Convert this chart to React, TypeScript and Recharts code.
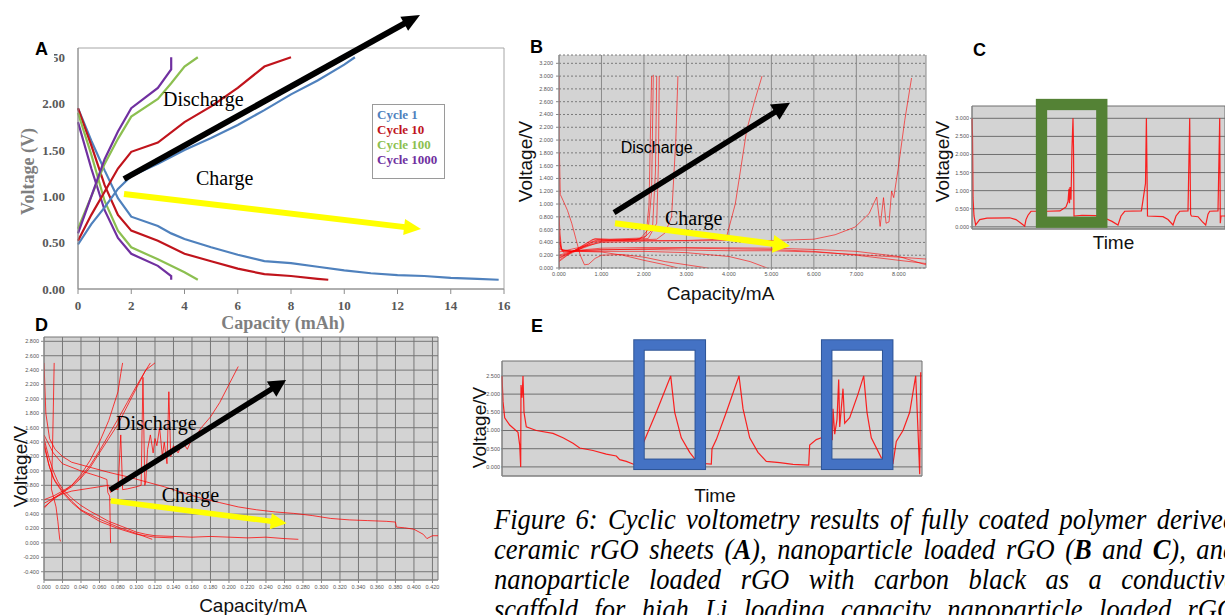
import React from "react";
import { LineChart, Line, XAxis, YAxis, CartesianGrid, Legend, ReferenceArea, Label } from "recharts";

type Pairs = number[][];
const pts = (a: Pairs) => a.map(([x, y]) => ({ x, y }));

// ---- A: fully coated polymer derived ceramic rGO (capacity mAh, voltage V)
const aCapTicks = [0, 2, 4, 6, 8, 10, 12, 14, 16];
const aVoltTicks = [0, 0.5, 1, 1.5, 2, 2.5];
const cyc1Charge = [[0, 1.95], [0.5, 1.6], [1, 1.28], [1.5, 0.98], [2, 0.78], [3, 0.68], [3.5, 0.6], [4, 0.54], [5, 0.45], [6, 0.37], [7, 0.3], [8, 0.28], [9, 0.24], [10, 0.2], [11, 0.17], [12, 0.15], [13, 0.14], [14, 0.12], [15, 0.11], [15.8, 0.1]];
const cyc1Discharge = [[0, 0.48], [0.5, 0.7], [1, 0.88], [1.5, 1.08], [2, 1.22], [3, 1.35], [4, 1.5], [5, 1.63], [6, 1.77], [7, 1.93], [8, 2.1], [9, 2.25], [10, 2.42], [10.4, 2.5]];
const cyc10Charge = [[0, 1.95], [0.5, 1.55], [1, 1.12], [1.5, 0.8], [2, 0.63], [3, 0.52], [4, 0.38], [5, 0.3], [6, 0.22], [7, 0.16], [8, 0.14], [9, 0.11], [9.4, 0.1]];
const cyc10Discharge = [[0, 0.52], [0.5, 0.8], [1, 1.05], [1.5, 1.3], [2, 1.48], [3, 1.58], [4, 1.8], [5, 1.97], [6, 2.17], [7, 2.4], [8, 2.5]];
const cyc100Charge = [[0, 1.9], [0.5, 1.45], [1, 0.95], [1.5, 0.63], [2, 0.45], [3, 0.32], [4, 0.18], [4.5, 0.1]];
const cyc100Discharge = [[0, 0.65], [0.5, 1.0], [1, 1.35], [1.5, 1.62], [2, 1.86], [3, 2.05], [3.5, 2.22], [4, 2.4], [4.5, 2.5]];
const cyc1000Charge = [[0, 1.8], [0.5, 1.3], [1, 0.85], [1.5, 0.55], [2, 0.38], [3, 0.25], [3.5, 0.14], [3.5, 0.1]];
const cyc1000Discharge = [[0, 0.6], [0.5, 1.0], [1, 1.4], [1.5, 1.7], [2, 1.95], [3, 2.17], [3.5, 2.37], [3.5, 2.5]];

const aCycles = [
  { name: "Cycle 1", color: "#4f81bd", charge: cyc1Charge, discharge: cyc1Discharge },
  { name: "Cycle 10", color: "#c0141c", charge: cyc10Charge, discharge: cyc10Discharge },
  { name: "Cycle 100", color: "#8cbf50", charge: cyc100Charge, discharge: cyc100Discharge },
  { name: "Cycle 1000", color: "#7030a0", charge: cyc1000Charge, discharge: cyc1000Discharge },
];

// ---- B: nanoparticle loaded rGO (capacity, voltage)
const bCapTicks = [0, 1, 2, 3, 4, 5, 6, 7, 8];
const bVoltTicks = [0, 0.2, 0.4, 0.6, 0.8, 1, 1.2, 1.4, 1.6, 1.8, 2, 2.2, 2.4, 2.6, 2.8, 3, 3.2];
const bCurves: Pairs[] = [
  [[0, 0], [0, 3.0]],
  [[0.01, 1.8], [0.03, 1.15], [0.1, 1.05], [0.2, 0.9], [0.3, 0.7], [0.4, 0.45], [0.5, 0.2], [0.6, 0.05], [0.7, 0.06], [0.85, 0.15], [1.0, 0.2], [1.5, 0.21], [2, 0.17], [2.5, 0.1], [3, 0.05], [3.5, 0.0]],
  [[0, 0.8], [0.03, 0.5], [0.06, 0.3], [0.1, 0.27], [0.3, 0.27], [1, 0.28], [2, 0.3], [3, 0.31], [4, 0.3], [5, 0.29], [6, 0.26], [7, 0.2], [8, 0.12], [8.64, 0.07]],
  [[0, 0.6], [0.05, 0.3], [0.1, 0.25], [0.5, 0.27], [1, 0.29], [2, 0.29], [3, 0.28], [4, 0.27], [5, 0.27], [6, 0.25], [7, 0.21], [8, 0.17], [8.64, 0.14]],
  [[0, 0.5], [0.05, 0.28], [0.3, 0.26], [1, 0.26], [2, 0.26], [3, 0.24], [4, 0.18], [4.5, 0.1], [4.9, 0.0]],
  [[0, 0.4], [0.1, 0.25], [0.5, 0.26], [1, 0.25], [1.5, 0.2], [2, 0.12], [2.5, 0.05], [2.8, 0.0]],
  [[0, 0.3], [0.3, 0.26], [0.5, 0.28], [1, 0.31], [2, 0.32], [3, 0.32], [5, 0.31], [6, 0.29], [7, 0.26], [8, 0.18], [8.64, 0.05]],
  [[0, 0.1], [0.2, 0.2], [0.5, 0.3], [0.8, 0.42], [1.2, 0.43], [1.8, 0.44], [2.05, 0.5], [2.12, 1.0], [2.15, 2.0], [2.18, 3.0]],
  [[0, 0.12], [0.3, 0.25], [0.8, 0.45], [1.2, 0.44], [1.9, 0.45], [2.1, 0.6], [2.18, 1.2], [2.22, 3.02]],
  [[0, 0.15], [0.4, 0.28], [0.85, 0.46], [1.2, 0.45], [2.0, 0.47], [2.2, 0.6], [2.27, 1.5], [2.3, 3.0]],
  [[0, 0.16], [0.45, 0.3], [0.9, 0.44], [1.5, 0.44], [2.1, 0.46], [2.3, 0.7], [2.34, 1.6], [2.36, 3.0]],
  [[0, 0.18], [0.5, 0.3], [0.9, 0.42], [1.5, 0.43], [2.3, 0.45], [2.5, 0.55], [2.65, 0.8], [2.75, 2.0], [2.8, 3.0]],
  [[0, 0.2], [0.6, 0.32], [1.0, 0.42], [2, 0.43], [3, 0.43], [3.8, 0.45], [3.95, 0.5], [4.15, 1.0], [4.42, 2.16], [4.6, 2.6], [4.78, 3.0]],
  [[0, 0.25], [1, 0.4], [2, 0.42], [4, 0.43], [5, 0.43], [6, 0.45], [6.5, 0.52], [6.97, 0.64], [7.3, 0.85], [7.48, 1.11], [7.56, 0.65], [7.64, 1.1], [7.7, 0.7], [7.77, 0.72], [7.83, 1.2], [7.88, 1.1], [7.98, 1.53], [8.14, 2.31], [8.3, 2.97]],
];

// ---- C: nanoparticle loaded rGO (time, voltage)
const cTimeTicks = [28.7, 57.4, 86.1, 114.8, 143.5, 172.2, 200.9, 229.6];
const cVoltTicks = [0, 0.5, 1, 1.5, 2, 2.5, 3];
const cVoltage = [[0, 3.0], [0.5, 2.5], [1, 0.8], [2, 0.3], [3.7, 0.05], [5, 0.1], [7.7, 0.2], [15, 0.24], [37.7, 0.25], [44, 0.2], [50, 0.08], [52.7, 0.02], [54, 0.2], [56, 0.32], [59, 0.43], [75, 0.43], [88, 0.44], [94, 0.55], [96, 0.7], [97, 1.05], [97.5, 0.65], [98, 1.1], [99, 0.75], [100, 2.2], [101, 3.0], [101.5, 2.2], [102, 0.3], [110, 0.32], [124, 0.31], [132, 0.25], [140, 0.15], [146, 0.05], [149, 0.3], [152.7, 0.43], [169.4, 0.44], [173.5, 1.2], [174.4, 3.0], [175.5, 0.3], [191, 0.28], [196, 0.2], [201, 0.05], [204, 0.3], [207.7, 0.43], [216, 0.44], [217.7, 3.0], [218.6, 0.35], [219.4, 0.3], [226, 0.28], [230, 0.15], [233.7, 0.05], [236, 0.35], [237.7, 0.43], [246, 0.44], [247.7, 3.0], [248.3, 0.1], [249, 0.3], [253, 0.3]];

// ---- D: nanoparticle loaded rGO with carbon black (capacity, voltage)
const dCapTicks = [0, 0.02, 0.04, 0.06, 0.08, 0.1, 0.12, 0.14, 0.16, 0.18, 0.2, 0.22, 0.24, 0.26, 0.28, 0.3, 0.32, 0.34, 0.36, 0.38, 0.4, 0.42];
const dVoltTicks = [-0.4, -0.2, 0, 0.2, 0.4, 0.6, 0.8, 1, 1.2, 1.4, 1.6, 1.8, 2, 2.2, 2.4, 2.6, 2.8];
const dCurves: Pairs[] = [
  [[0, 2.5], [0.002, 1.8], [0.006, 1.45], [0.012, 1.3], [0.02, 1.2], [0.03, 1.12], [0.05, 1.05], [0.07, 0.98], [0.09, 0.92], [0.11, 0.85], [0.13, 0.78], [0.15, 0.7], [0.17, 0.62], [0.19, 0.56], [0.21, 0.5], [0.23, 0.46], [0.25, 0.43], [0.27, 0.41], [0.29, 0.38], [0.31, 0.34], [0.33, 0.32], [0.35, 0.31], [0.37, 0.3], [0.38, 0.29], [0.381, 0.22], [0.39, 0.21], [0.4, 0.19], [0.41, 0.12], [0.414, 0.06], [0.42, 0.1], [0.426, 0.1]],
  [[0, 1.5], [0.01, 1.25], [0.02, 1.1], [0.04, 1.0], [0.06, 0.92], [0.068, 0.88], [0.069, 0.7], [0.071, 0.65], [0.072, 0.0]],
  [[0, 1.45], [0.005, 1.2], [0.01, 1.0], [0.015, 0.85], [0.02, 0.75], [0.03, 0.62], [0.04, 0.52], [0.05, 0.44], [0.06, 0.37], [0.07, 0.3], [0.08, 0.25], [0.09, 0.2], [0.1, 0.15], [0.11, 0.12], [0.12, 0.1], [0.14, 0.09], [0.16, 0.08], [0.18, 0.09], [0.2, 0.08], [0.22, 0.07], [0.24, 0.08], [0.26, 0.06], [0.275, 0.05]],
  [[0, 1.4], [0.005, 1.1], [0.01, 0.9], [0.02, 0.72], [0.03, 0.58], [0.04, 0.46], [0.06, 0.33], [0.08, 0.22], [0.1, 0.13], [0.117, 0.05]],
  [[0, 1.35], [0.006, 1.05], [0.012, 0.85], [0.02, 0.7], [0.03, 0.56], [0.04, 0.45], [0.06, 0.3], [0.08, 0.2], [0.1, 0.12], [0.12, 0.08], [0.14, 0.07]],
  [[0.011, 2.5], [0.01, 1.8], [0.009, 1.2], [0.008, 0.75], [0.01, 0.65], [0.013, 0.5], [0.015, 0.3], [0.017, 0.05], [0.018, 0.02]],
  [[0, 0.5], [0.01, 0.6], [0.02, 0.7], [0.03, 0.8], [0.04, 0.95], [0.05, 1.15], [0.06, 1.4], [0.07, 1.7], [0.075, 1.9], [0.08, 2.1], [0.083, 2.35], [0.085, 2.5]],
  [[0, 0.55], [0.01, 0.62], [0.02, 0.7], [0.03, 0.78], [0.04, 0.9], [0.05, 1.05], [0.06, 1.25], [0.07, 1.45], [0.08, 1.65], [0.09, 1.9], [0.1, 2.15], [0.11, 2.4], [0.115, 2.5]],
  [[0, 0.6], [0.01, 0.65], [0.02, 0.72], [0.03, 0.8], [0.04, 0.92], [0.05, 1.08], [0.06, 1.28], [0.07, 1.5], [0.08, 1.72], [0.09, 1.95], [0.1, 2.18], [0.11, 2.4], [0.12, 2.5]],
  [[0, 0.48], [0.01, 0.62], [0.02, 0.68], [0.03, 0.72], [0.04, 0.74], [0.05, 0.76], [0.06, 0.78], [0.07, 0.8], [0.072, 0.7], [0.075, 0.75], [0.08, 0.74], [0.083, 1.5], [0.085, 0.74], [0.09, 0.75], [0.1, 0.78], [0.105, 0.8], [0.107, 2.3], [0.109, 0.8], [0.11, 0.85], [0.112, 1.3], [0.115, 1.5], [0.118, 1.25], [0.12, 1.45], [0.122, 1.35], [0.125, 1.6], [0.128, 1.2], [0.13, 1.4], [0.133, 1.1], [0.135, 2.1], [0.137, 1.2], [0.14, 1.35], [0.145, 1.25], [0.15, 1.4], [0.155, 1.3], [0.16, 1.45], [0.165, 1.5], [0.17, 1.6], [0.18, 1.75], [0.19, 1.95], [0.2, 2.2], [0.21, 2.45]],
];

// ---- E: nanoparticle loaded rGO with carbon black (time, voltage)
const eTimeTicks = [38.7, 77, 115.3, 154, 192.3, 230.3, 268.7, 306.7, 345, 383.3];
const eVoltTicks = [0, 0.5, 1, 1.5, 2, 2.5];
const eVoltage = [[0, 2.5], [1, 1.8], [2.7, 1.35], [7.7, 1.15], [16, 0.95], [17.7, 0.6], [18.7, 0.0], [19, 2.25], [20, 1.9], [21, 2.5], [22, 1.5], [24.3, 1.1], [34.3, 1.0], [51, 0.92], [61, 0.8], [71, 0.65], [77.7, 0.52], [91, 0.45], [104.3, 0.35], [114.3, 0.3], [117.7, 0.2], [124.3, 0.15], [131, 0.08], [134.3, 0.05], [142, 0.7], [154.3, 1.5], [168.7, 2.5], [172.7, 1.5], [179.3, 0.8], [187.7, 0.4], [192.7, 0.22], [197.7, 0.1], [209.3, 0.08], [210, 0.5], [214.3, 0.75], [224.3, 1.5], [237, 2.5], [241, 1.6], [247.7, 0.8], [256, 0.4], [264.3, 0.15], [277.7, 0.12], [291, 0.07], [306.7, 0.05], [307.7, 0.6], [314.3, 0.75], [319.3, 0.8], [330.3, 0.75], [331, 1.6], [332.7, 0.9], [335, 1.3], [336.7, 2.4], [337.7, 1.1], [341, 2.15], [342.7, 1.2], [347.7, 1.35], [356, 2.0], [361.7, 2.5], [365, 1.5], [369.3, 0.8], [379.3, 0.25], [391, 0.1], [394.3, 0.7], [401, 1.0], [407.7, 1.5], [413.7, 2.5], [416, 1.0], [417.7, -0.2], [418.7, 2.6]];

const captionLines = [
  "Figure 6: Cyclic voltometry results of fully coated polymer derived",
  "ceramic rGO sheets (A), nanoparticle loaded rGO (B and C), and",
  "nanoparticle loaded rGO with carbon black as a conductive",
  "scaffold for high Li loading capacity nanoparticle loaded rGO",
];

const sans = "'Liberation Sans', Arial, sans-serif";
const serif = "'Liberation Serif', 'Times New Roman', serif";
const smallTick = { fontSize: 5.5, fill: "#555", fontFamily: sans };
const f3 = (v: number) => v.toFixed(3);
const titleStyle = { fontSize: 19, fill: "#111", fontFamily: sans };

function LegendA(props: any) {
  const seen = new Set<string>();
  const items = (props.payload || []).filter((e: any) => {
    if (e.type === "none" || seen.has(e.value)) return false;
    seen.add(e.value);
    return true;
  });
  return (
    <div style={{ border: "1px solid #9a9a9a", width: 73, height: 75, boxSizing: "border-box", padding: "2px 0 0 4px", background: "#fff" }}>
      {items.map((e: any) => (
        <div key={e.value} style={{ color: e.color, font: `bold 13px ${serif}`, lineHeight: "15px", whiteSpace: "nowrap" }}>
          {e.value}
        </div>
      ))}
    </div>
  );
}

function PanelA() {
  return (
    <div style={{ position: "absolute", left: 0, top: 30 }}>
      <LineChart width={520} height={310} margin={{ top: 18, right: 16, left: 0, bottom: 0 }}>
        <XAxis type="number" dataKey="x" domain={[0, 16]} ticks={aCapTicks} height={51} interval={0}
          tick={{ fontSize: 13, fontWeight: "bold", fill: "#595959", fontFamily: serif }}
          tickSize={5} tickMargin={7} stroke="#8c8c8c">
          <Label value="Capacity (mAh)" position="center" dx={-8} dy={8}
            style={{ fontSize: 18, fontWeight: "bold", fill: "#7f7f7f", fontFamily: serif }} />
        </XAxis>
        <YAxis type="number" domain={[0, 2.6]} ticks={aVoltTicks} width={78} interval={0}
          tickFormatter={(v: number) => v.toFixed(2)} tickLine={false}
          tick={{ fontSize: 13, fontWeight: "bold", fill: "#595959", fontFamily: serif }}
          tickSize={6} tickMargin={7} stroke="#8c8c8c">
          <Label value="Voltage (V)" angle={-90} position="center" dx={-11} dy={3}
            style={{ fontSize: 18, fontWeight: "bold", fill: "#7f7f7f", fontFamily: serif }} />
        </YAxis>
        <ReferenceArea x1={0} x2={16} y1={0} y2={2.6} fill="none" stroke="#a6a6a6" />
        {aCycles.map((c) => (
          <Line key={c.name + "c"} data={pts(c.charge)} dataKey="y" name={c.name} stroke={c.color}
            strokeWidth={2.2} dot={false} isAnimationActive={false} legendType="none" />
        ))}
        {aCycles.map((c) => (
          <Line key={c.name + "d"} data={pts(c.discharge)} dataKey="y" name={c.name} stroke={c.color}
            strokeWidth={2.2} dot={false} isAnimationActive={false} />
        ))}
        <Legend layout="vertical" align="center" verticalAlign="middle" content={LegendA}
          wrapperStyle={{ left: 372, top: 74, width: 73 }} />
      </LineChart>
    </div>
  );
}

function PanelB() {
  return (
    <div style={{ position: "absolute", left: 505, top: 30 }}>
      <LineChart width={435} height={280} margin={{ top: 25, right: 14, left: 0, bottom: 0 }}>
        <CartesianGrid vertical={false} stroke="#7a7a7a" strokeDasharray="2 2" fill="#d3d3d3" fillOpacity={1} />
        <CartesianGrid horizontal={false} stroke="#8a8a8a" />
        <XAxis type="number" dataKey="x" domain={[0, 8.64]} ticks={bCapTicks} height={42} interval={0}
          tickFormatter={f3} tick={smallTick} tickSize={2} tickMargin={2} stroke="#888" allowDataOverflow>
          <Label value="Capacity/mA" position="center" dx={-22} dy={4} style={titleStyle} />
        </XAxis>
        <YAxis type="number" domain={[0, 3.33]} ticks={bVoltTicks} width={54} interval={0}
          tickFormatter={f3} tick={smallTick} tickSize={3} tickMargin={3} stroke="#888" allowDataOverflow>
          <Label value="Voltage/V" angle={-90} position="center" dx={-7} style={titleStyle} />
        </YAxis>
        {bCurves.map((c, i) => (
          <Line key={i} data={pts(c)} dataKey="y" stroke="#ff0000" strokeOpacity={0.6} strokeWidth={1}
            dot={false} isAnimationActive={false} />
        ))}
      </LineChart>
    </div>
  );
}

function PanelC() {
  return (
    <div style={{ position: "absolute", left: 925, top: 60 }}>
      <LineChart width={300} height={200} margin={{ top: 46, right: 0, left: 0, bottom: 0 }}>
        <CartesianGrid stroke="#6f6f6f" fill="#d3d3d3" fillOpacity={1} />
        <XAxis type="number" dataKey="x" domain={[0, 253]} ticks={cTimeTicks} height={31} tick={false}
          tickLine={false} stroke="#888">
          <Label value="Time" position="center" dx={15} dy={-2} style={titleStyle} />
        </XAxis>
        <YAxis type="number" domain={[-0.06, 3.34]} ticks={cVoltTicks} width={47} interval={0}
          tickFormatter={f3} tick={smallTick} tickSize={2} tickMargin={1} stroke="#888">
          <Label value="Voltage/V" angle={-90} position="center" dx={-6} dy={-6} style={titleStyle} />
        </YAxis>
        <Line data={pts(cVoltage)} dataKey="y" stroke="#ff0000" strokeOpacity={0.85} strokeWidth={1.2}
          dot={false} isAnimationActive={false} />
      </LineChart>
    </div>
  );
}

function PanelD() {
  return (
    <div style={{ position: "absolute", left: 0, top: 320 }}>
      <LineChart width={460} height={295} margin={{ top: 17, right: 22, left: 0, bottom: 0 }}>
        <CartesianGrid stroke="#777" fill="#d3d3d3" fillOpacity={1} />
        <XAxis type="number" dataKey="x" domain={[0, 0.426]} ticks={dCapTicks} height={35} interval={0}
          tickFormatter={f3} tick={smallTick} tickSize={3} tickMargin={2} stroke="#888" allowDataOverflow>
          <Label value="Capacity/mA" position="center" dx={12} dy={8} style={titleStyle} />
        </XAxis>
        <YAxis type="number" domain={[-0.515, 2.86]} ticks={dVoltTicks} width={44} interval={0}
          tickFormatter={f3} tick={smallTick} tickSize={3} tickMargin={2} stroke="#888" allowDataOverflow>
          <Label value="Voltage/V" angle={-90} position="center" dx={-2} dy={8} style={titleStyle} />
        </YAxis>
        {dCurves.map((c, i) => (
          <Line key={i} data={pts(c)} dataKey="y" stroke="#ff0000" strokeOpacity={0.75} strokeWidth={1}
            dot={false} isAnimationActive={false} />
        ))}
      </LineChart>
    </div>
  );
}

function PanelE() {
  return (
    <div style={{ position: "absolute", left: 460, top: 340 }}>
      <LineChart width={470} height={170} margin={{ top: 21, right: 8, left: 0, bottom: 0 }}>
        <CartesianGrid stroke="#6f6f6f" fill="#d3d3d3" fillOpacity={1} />
        <XAxis type="number" dataKey="x" domain={[0, 420]} ticks={eTimeTicks} height={34} tick={false}
          tickLine={false} stroke="#888">
          <Label value="Time" position="center" dx={3} dy={2} style={titleStyle} />
        </XAxis>
        <YAxis type="number" domain={[-0.25, 2.91]} ticks={eVoltTicks} width={42} interval={0}
          tickFormatter={f3} tick={smallTick} tickSize={1} tickMargin={1} stroke="#888" allowDataOverflow>
          <Label value="Voltage/V" angle={-90} position="center" dx={-2} dy={9} style={titleStyle} />
        </YAxis>
        <Line data={pts(eVoltage)} dataKey="y" stroke="#ff0000" strokeOpacity={0.85} strokeWidth={1.2}
          dot={false} isAnimationActive={false} />
      </LineChart>
    </div>
  );
}

function Arrow({ from, to, color, width, head, half }: { from: number[]; to: number[]; color: string; width: number; head: number; half: number }) {
  const [x1, y1] = from;
  const [x2, y2] = to;
  const len = Math.hypot(x2 - x1, y2 - y1);
  const ux = (x2 - x1) / len;
  const uy = (y2 - y1) / len;
  const bx = x2 - ux * head;
  const by = y2 - uy * head;
  return (
    <g>
      <line x1={x1} y1={y1} x2={bx + ux} y2={by + uy} stroke={color} strokeWidth={width} />
      <polygon points={`${x2},${y2} ${bx - uy * half},${by + ux * half} ${bx + uy * half},${by - ux * half}`} fill={color} />
    </g>
  );
}

function Overlay() {
  const word = { fontFamily: serif, fontSize: 20, fill: "#000" };
  const letter = { fontFamily: sans, fontSize: 18, fontWeight: "bold" as const, fill: "#000" };
  return (
    <svg width={1225} height={615} style={{ position: "absolute", left: 0, top: 0, pointerEvents: "none" }}>
      {/* the panel letter sits on the image crop edge and hides the start of the 2.50 label */}
      <rect x={28} y={38} width={26} height={26} fill="#fff" />
      <text x={35} y={54.7} style={letter}>A</text>
      <text x={530} y={53} style={letter}>B</text>
      <text x={973} y={55.7} style={letter}>C</text>
      <text x={35} y={330.7} style={letter}>D</text>
      <text x={531} y={332.4} style={letter}>E</text>

      <text x={163} y={106} style={word}>Discharge</text>
      <text x={196} y={184.5} style={word}>Charge</text>
      <text x={620.7} y={153.4} style={{ ...word, fontFamily: sans, fontSize: 16 }}>Discharge</text>
      <text x={665} y={225.2} style={word}>Charge</text>
      <text x={116} y={430.2} style={word}>Discharge</text>
      <text x={161.7} y={502.2} style={word}>Charge</text>

      <Arrow from={[124, 179]} to={[420, 15]} color="#000" width={6} head={18} half={8} />
      <Arrow from={[124, 194]} to={[421, 229]} color="#ffff00" width={6} head={17} half={8} />
      <Arrow from={[614, 212.7]} to={[790, 102.7]} color="#000" width={5.5} head={18} half={9} />
      <Arrow from={[615, 223.3]} to={[790, 246]} color="#ffff00" width={6} head={17} half={9} />
      <Arrow from={[110, 490]} to={[286, 380]} color="#000" width={5.5} head={17} half={9} />
      <Arrow from={[110.7, 500.7]} to={[286.7, 523.3]} color="#ffff00" width={5.5} head={16} half={8} />

      <rect x={1041.5} y={104.5} width={60.3} height={117.7} fill="none" stroke="#548235" strokeWidth={11.3} />
      <rect x={639} y={345} width={61.3} height={119.3} fill="none" stroke="#2f5597" strokeWidth={11.5} />
      <rect x={639} y={345} width={61.3} height={119.3} fill="none" stroke="#4472c4" strokeWidth={9.5} />
      <rect x={826.7} y={345} width={61} height={119.3} fill="none" stroke="#2f5597" strokeWidth={11.5} />
      <rect x={826.7} y={345} width={61} height={119.3} fill="none" stroke="#4472c4" strokeWidth={9.5} />
    </svg>
  );
}

function Caption() {
  const line = (i: number): React.CSSProperties => ({
    position: "absolute", left: 494, top: 507 + i * 30, width: 798, height: 26, fontFamily: serif, fontStyle: "italic",
    fontSize: 28.5, lineHeight: "26px", textAlign: "justify", textAlignLast: "justify", color: "#000",
    transform: "scaleX(0.93)", transformOrigin: "0 0",
  });
  return (
    <>
      <div style={line(0)}>{captionLines[0]}</div>
      <div style={line(1)}>
        ceramic rGO sheets (<b>A</b>), nanoparticle loaded rGO (<b>B</b> and <b>C</b>), and
      </div>
      <div style={line(2)}>{captionLines[2]}</div>
      <div style={line(3)}>{captionLines[3]}</div>
    </>
  );
}

export default function App() {
  return (
    <div style={{ position: "absolute", left: 0, top: 0, width: 1225, height: 615, overflow: "hidden", background: "#fff" }}>
      <PanelA />
      <PanelB />
      <PanelC />
      <PanelD />
      <PanelE />
      <Caption />
      <Overlay />
    </div>
  );
}
